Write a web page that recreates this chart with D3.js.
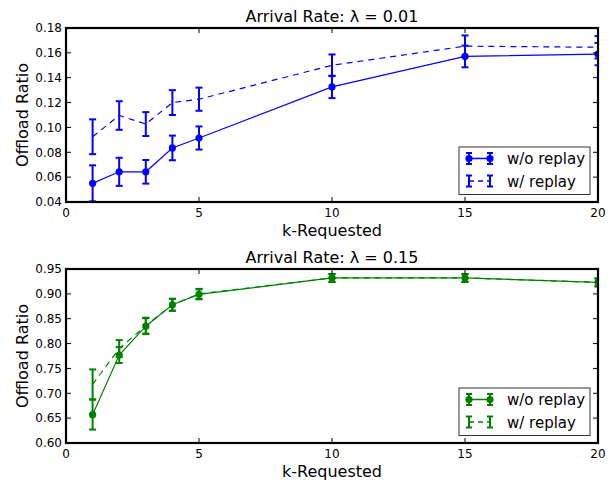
<!DOCTYPE html>
<html>
<head>
<meta charset="utf-8">
<script src="https://cdn.jsdelivr.net/npm/d3@7"></script>
<style>
  body { margin: 0; background: #fff; }
  text { font-family: "DejaVu Sans", sans-serif; }
</style>
</head>
<body>
<svg id="chart" width="613" height="483"></svg>
<script>
// k values on x axis
var kValues = [1, 2, 3, 4, 5, 10, 15, 20];
var xTicks = [0, 5, 10, 15, 20];

// lambda = 0.01
var lowNoReplay    = [0.055, 0.0643, 0.0643, 0.0835, 0.0915, 0.1326, 0.1571, 0.159];
var lowNoReplayErr = [0.0145, 0.0113, 0.0095, 0.0099, 0.0093, 0.009, 0.0087, 0.009];
var lowReplay      = [0.0925, 0.1096, 0.1027, 0.12, 0.1227, 0.15, 0.1654, 0.1645];
var lowReplayErr   = [0.014, 0.0115, 0.0096, 0.01, 0.0093, 0.0087, 0.0086, 0.009];
var lowTicks = [0.04, 0.06, 0.08, 0.10, 0.12, 0.14, 0.16, 0.18];

// lambda = 0.15
var highNoReplay    = [0.657, 0.777, 0.835, 0.878, 0.899, 0.932, 0.932, 0.923];
var highNoReplayErr = [0.03, 0.016, 0.016, 0.012, 0.01, 0.008, 0.008, 0.008];
var highReplay      = [0.718, 0.79, 0.836, 0.878, 0.9, 0.932, 0.932, 0.923];
var highReplayErr   = [0.03, 0.017, 0.016, 0.012, 0.01, 0.008, 0.008, 0.008];
var highTicks = [0.60, 0.65, 0.70, 0.75, 0.80, 0.85, 0.90, 0.95];

var svg = d3.select('#chart');

function panel(opt) {
    var left = 66, right = 598, top = opt.top, bottom = opt.bottom;
    var g = svg.append('g');

    var x = d3.scaleLinear().domain([0, 20]).range([left, right]);
    var y = d3.scaleLinear().domain(opt.domain).range([bottom, top]);

    var clipId = 'clip' + opt.id;
    svg.append('clipPath').attr('id', clipId)
        .append('rect')
        .attr('x', left).attr('y', top)
        .attr('width', right - left).attr('height', bottom - top);

    var plot = g.append('g').attr('clip-path', 'url(#' + clipId + ')');

    var series = [
        {vals: opt.solid, err: opt.solidErr, dash: null, marker: true},
        {vals: opt.dashed, err: opt.dashedErr, dash: '6,5', marker: false}
    ];

    series.forEach(function (s) {
        var pts = kValues.map(function (k, i) { return {k: k, v: s.vals[i], e: s.err[i]}; });

        // error bars
        var eb = plot.append('g').selectAll('g').data(pts).enter().append('g')
            .attr('stroke', opt.color).attr('stroke-width', 2);
        eb.append('line')
            .attr('x1', d => x(d.k)).attr('x2', d => x(d.k))
            .attr('y1', d => y(d.v - d.e)).attr('y2', d => y(d.v + d.e));
        eb.append('line')
            .attr('x1', d => x(d.k) - 3.5).attr('x2', d => x(d.k) + 3.5)
            .attr('y1', d => y(d.v + d.e)).attr('y2', d => y(d.v + d.e));
        eb.append('line')
            .attr('x1', d => x(d.k) - 3.5).attr('x2', d => x(d.k) + 3.5)
            .attr('y1', d => y(d.v - d.e)).attr('y2', d => y(d.v - d.e));

        var line = d3.line().x(d => x(d.k)).y(d => y(d.v));
        plot.append('path')
            .datum(pts)
            .attr('d', line)
            .attr('fill', 'none')
            .attr('stroke', opt.color)
            .attr('stroke-width', 1.2)
            .attr('stroke-dasharray', s.dash);

        if (s.marker) {
            plot.append('g').selectAll('circle').data(pts).enter().append('circle')
                .attr('cx', d => x(d.k)).attr('cy', d => y(d.v))
                .attr('r', 3.6)
                .attr('fill', opt.color);
        }
    });

    // ticks inward on all four sides
    var tk = g.append('g').attr('stroke', '#000').attr('stroke-width', 1);
    xTicks.forEach(function (t) {
        tk.append('line').attr('x1', x(t)).attr('x2', x(t)).attr('y1', bottom).attr('y2', bottom - 5);
        tk.append('line').attr('x1', x(t)).attr('x2', x(t)).attr('y1', top).attr('y2', top + 5);
    });
    opt.ticks.forEach(function (t) {
        tk.append('line').attr('x1', left).attr('x2', left + 5).attr('y1', y(t)).attr('y2', y(t));
        tk.append('line').attr('x1', right).attr('x2', right - 5).attr('y1', y(t)).attr('y2', y(t));
    });

    g.append('g').selectAll('text').data(xTicks).enter().append('text')
        .attr('x', d => x(d)).attr('y', bottom + 15)
        .attr('text-anchor', 'middle')
        .attr('font-size', 12)
        .text(d => d);

    g.append('g').selectAll('text').data(opt.ticks).enter().append('text')
        .attr('x', left - 4).attr('y', d => y(d) + 4.3)
        .attr('text-anchor', 'end')
        .attr('font-size', 12)
        .text(d => d3.format('.2f')(d));

    // frame
    g.append('rect')
        .attr('x', left).attr('y', top)
        .attr('width', right - left).attr('height', bottom - top)
        .attr('fill', 'none').attr('stroke', '#000').attr('stroke-width', 2.2);

    // title and labels
    g.append('text')
        .attr('x', (left + right) / 2).attr('y', top - 6.5)
        .attr('text-anchor', 'middle')
        .attr('font-size', 16)
        .text(opt.title);

    g.append('text')
        .attr('x', (left + right) / 2).attr('y', bottom + 34)
        .attr('text-anchor', 'middle')
        .attr('font-size', 16)
        .text('k-Requested');

    g.append('text')
        .attr('transform', 'translate(27.5,' + ((top + bottom) / 2) + ') rotate(-90)')
        .attr('text-anchor', 'middle')
        .attr('font-size', 16)
        .text('Offload Ratio');

    // legend
    var lx = 459, ly = bottom - 55;
    var lg = g.append('g');
    lg.append('rect')
        .attr('x', lx).attr('y', ly)
        .attr('width', 131).attr('height', 47.5)
        .attr('fill', '#fff').attr('stroke', '#333').attr('stroke-width', 1);

    var items = [
        {label: 'w/o replay', dash: null, marker: true},
        {label: 'w/ replay', dash: '5,4', marker: false}
    ];
    items.forEach(function (it, i) {
        var cy = ly + 11.5 + i * 22.5;
        var x0 = lx + 10, x1 = lx + 31;
        var row = lg.append('g');
        [x0, x1].forEach(function (xx) {
            row.append('line').attr('x1', xx).attr('x2', xx).attr('y1', cy - 5.5).attr('y2', cy + 5.5)
                .attr('stroke', opt.color).attr('stroke-width', 2);
            row.append('line').attr('x1', xx - 3).attr('x2', xx + 3).attr('y1', cy - 5.5).attr('y2', cy - 5.5)
                .attr('stroke', opt.color).attr('stroke-width', 2);
            row.append('line').attr('x1', xx - 3).attr('x2', xx + 3).attr('y1', cy + 5.5).attr('y2', cy + 5.5)
                .attr('stroke', opt.color).attr('stroke-width', 2);
        });
        row.append('line').attr('x1', x0).attr('x2', x1).attr('y1', cy).attr('y2', cy)
            .attr('stroke', opt.color).attr('stroke-width', 1.5)
            .attr('stroke-dasharray', it.dash);
        if (it.marker) {
            [x0, x1].forEach(function (xx) {
                row.append('circle').attr('cx', xx).attr('cy', cy).attr('r', 3.6).attr('fill', opt.color);
            });
        }
        row.append('text')
            .attr('x', lx + 48).attr('y', cy + 5.5)
            .attr('font-size', 15)
            .text(it.label);
    });
}

panel({
    id: 'a', top: 28, bottom: 202, domain: [0.04, 0.18], ticks: lowTicks,
    solid: lowNoReplay, solidErr: lowNoReplayErr, dashed: lowReplay, dashedErr: lowReplayErr,
    color: '#0000ff', title: 'Arrival Rate: \u03bb = 0.01'
});

panel({
    id: 'b', top: 269, bottom: 443, domain: [0.60, 0.95], ticks: highTicks,
    solid: highNoReplay, solidErr: highNoReplayErr, dashed: highReplay, dashedErr: highReplayErr,
    color: '#008000', title: 'Arrival Rate: \u03bb = 0.15'
});
</script>
</body>
</html>
